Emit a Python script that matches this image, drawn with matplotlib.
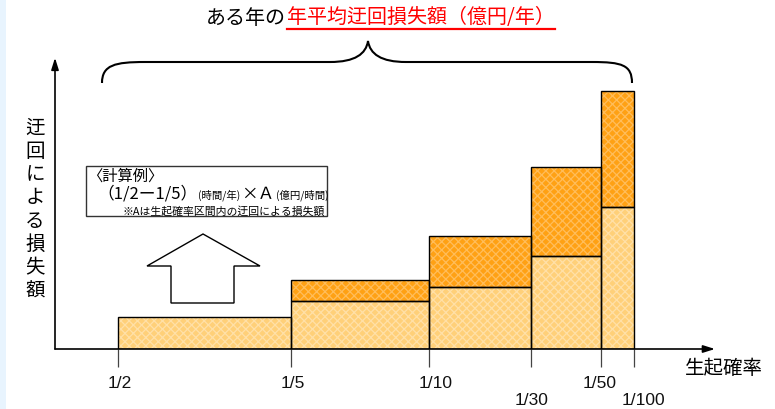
import matplotlib.pyplot as plt
from matplotlib.patches import Polygon, PathPatch, Rectangle
from matplotlib.path import Path

plt.rcParams['font.family'] = ['Noto Sans CJK JP', 'DejaVu Sans']
plt.rcParams['hatch.linewidth'] = 0.9

# occurrence probability boundaries and the loss in each interval
prob_labels = ['1/2', '1/5', '1/10', '1/30', '1/50', '1/100']
base_loss = [32, 48, 62, 93, 142]      # lower step (light)
total_loss = [32, 69, 113, 182, 258]   # upper step (dark)

# layout of the (non-linear) probability axis
edge_x = [63, 236, 374, 476, 546, 579]
label_dx = [2, 2, 7, 1, -1, 9]
label_row = [0, 0, 0, 1, 0, 1]

LIGHT = '#FFD079'
DARK = '#FFA114'

fig = plt.figure(figsize=(7.75, 4.1), dpi=100)
over = fig.add_axes([0, 0, 1, 1])
over.set_xlim(0, 775)
over.set_ylim(410, 0)
over.axis('off')

# thin strip on the left edge
over.add_patch(Rectangle((0, 0), 6, 410, color='#E8F4FE', lw=0))

ax = fig.add_axes([55 / 775, 60 / 410, 660 / 775, 280 / 410])
ax.set_xlim(0, 660)
ax.set_ylim(0, 280)
ax.patch.set_alpha(0)
for s in ax.spines.values():
    s.set_visible(False)

lefts = edge_x[:-1]
widths = [b - a for a, b in zip(edge_x[:-1], edge_x[1:])]
upper = [t - b for t, b in zip(total_loss, base_loss)]

ax.bar(lefts, base_loss, width=widths, align='edge', color=LIGHT,
       edgecolor=(1, 1, 1, 0.35), hatch='xxxx', lw=0, zorder=2)
ax.bar(lefts, upper, bottom=base_loss, width=widths, align='edge',
       color=DARK, edgecolor=(1, 1, 1, 0.3), hatch='xxxx', lw=0, zorder=2)
# outlines
ax.bar(lefts, base_loss, width=widths, align='edge', fill=False,
       edgecolor='black', lw=1.0, zorder=3)
for l, w, b, u in zip(lefts, widths, base_loss, upper):
    if u > 0:
        ax.bar(l, u, bottom=b, width=w, align='edge', fill=False,
               edgecolor='black', lw=1.0, zorder=3)

ax.set_xticks(edge_x)
ax.set_yticks([])
ax.tick_params(axis='x', length=13, width=0.9, color='#444444',
               labelbottom=False)

arrow = dict(arrowstyle='-|>,head_length=0.7,head_width=0.22',
             color='black', lw=1.2, shrinkA=0, shrinkB=0)
ax.annotate('', xy=(1, 0), xytext=(0, 0), xycoords='axes fraction',
            arrowprops=arrow)
ax.annotate('', xy=(0, 1.04), xytext=(0, 0), xycoords='axes fraction',
            arrowprops=arrow)

# probability labels, two staggered rows
for x, lab, dx, row in zip(edge_x, prob_labels, label_dx, label_row):
    px = 55 + x + dx
    over.text(px, 384 + 17 * row, lab, ha='center', va='center',
              fontsize=12.5, color='#111111', family='Liberation Sans')

over.text(724, 369, '生起確率', ha='center', va='center', fontsize=14)

# vertical y label
for i, ch in enumerate('迂回による損失額'):
    over.text(35, 128 + i * 23.3, ch, ha='center', va='center', fontsize=14)

renderer = fig.canvas.get_renderer()
inv = over.transData.inverted()


def right_edge(t):
    bb = t.get_window_extent(renderer)
    return inv.transform((bb.x1, bb.y0))[0]


# title with underlined red part
over.text(286, 18, 'ある年の', ha='right', va='center', fontsize=14.4)
red = over.text(287, 18, '年平均迂回損失額（億円/年）', ha='left', va='center',
                fontsize=14.4, color='#FF0000')
x_end = right_edge(red)
over.plot([287, x_end], [30, 30], color='#FF0000', lw=1.6)

# curly brace over the bars
verts = [(102, 84), (102, 66), (115, 63), (145, 63),
         (330, 63),
         (355, 63), (366, 55), (368, 42),
         (370, 55), (381, 63), (406, 63),
         (592, 63),
         (622, 63), (632, 66), (632, 84)]
codes = [Path.MOVETO, Path.CURVE4, Path.CURVE4, Path.CURVE4,
         Path.LINETO,
         Path.CURVE4, Path.CURVE4, Path.CURVE4,
         Path.CURVE4, Path.CURVE4, Path.CURVE4,
         Path.LINETO,
         Path.CURVE4, Path.CURVE4, Path.CURVE4]
over.add_patch(PathPatch(Path(verts, codes), fill=False, lw=1.5,
                         color='black'))

# calculation example box
over.add_patch(Rectangle((86, 167), 241, 50, fill=False, lw=1.0,
                         edgecolor='#333333'))
over.text(87, 176, '〈計算例〉', ha='left', va='center', fontsize=11)

x = 97
for txt, size in [('（1/2ー1/5）', 12), ('(時間/年)', 7.5),
                  ('×Ａ', 12), ('(億円/時間)', 7.5)]:
    t = over.text(x, 199, txt, ha='left', va='baseline', fontsize=size)
    x = right_edge(t) + 1

over.text(325, 211, '※Aは生起確率区間内の迂回による損失額', ha='right',
          va='center', fontsize=7.8)

# hollow up arrow
over.add_patch(Polygon([(203, 235), (260, 267), (234, 267), (234, 304),
                        (171, 304), (171, 267), (147, 267)], closed=True,
                       facecolor='white', edgecolor='black', lw=1.0))

fig.savefig('out.png', dpi=100)
